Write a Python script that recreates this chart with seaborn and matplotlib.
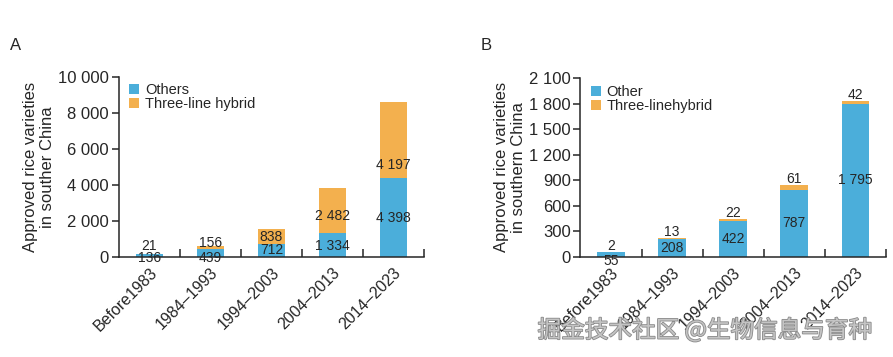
import matplotlib
matplotlib.use("Agg")
import matplotlib.pyplot as plt
import matplotlib.patheffects as pe
import seaborn as sns
import pandas as pd
from matplotlib.patches import Patch
from matplotlib.ticker import FuncFormatter, FixedLocator

# ---------------- data ----------------
periods = ["Before1983", "1984\u20131993", "1994\u20132003", "2004\u20132013", "2014\u20132023"]

others_A = [136, 439, 712, 1334, 4398]
hybrid_A = [21, 156, 838, 2482, 4197]

others_B = [55, 208, 422, 787, 1795]
hybrid_B = [2, 13, 22, 61, 42]

yticks_A = [0, 2000, 4000, 6000, 8000, 10000]
yticks_B = [0, 300, 600, 900, 1200, 1500, 1800, 2100]

# label heights (data units) for the value annotations
label_y_others_A = [-100, -70, 370, 600, 2150]
label_y_hybrid_A = [610, 760, 1090, 2260, 5090]
label_y_others_B = [-45, 104, 211, 393, 897]

BLUE = "#4BAEDA"
ORANGE = "#F3B04E"

sns.set_style("ticks")
plt.rcParams["font.family"] = ["Liberation Sans", "DejaVu Sans"]
plt.rcParams["axes.linewidth"] = 1.1

fig = plt.figure(figsize=(8.93, 3.57), dpi=100)
axA = fig.add_axes([0.133, 0.281, 0.342, 0.504])
axB = fig.add_axes([0.650, 0.281, 0.342, 0.500])

fmt = FuncFormatter(lambda v, p: f"{v:,.0f}".replace(",", " "))


def num(v):
    return f"{v:,.0f}".replace(",", " ")


def draw(ax, others, hybrid, yticks, ylabel, labelpad, leg_labels):
    df = pd.DataFrame({"period": periods, "others": others, "hybrid": hybrid})
    df["total"] = df["others"] + df["hybrid"]
    sns.barplot(data=df, x="period", y="total", color=ORANGE, saturation=1,
                width=0.45, ax=ax, linewidth=0)
    sns.barplot(data=df, x="period", y="others", color=BLUE, saturation=1,
                width=0.45, ax=ax, linewidth=0)
    ax.set_xlim(-0.5, 4.5)
    ax.set_ylim(0, yticks[-1])
    ax.set_yticks(yticks)
    ax.yaxis.set_major_formatter(fmt)
    ax.tick_params(axis="y", direction="out", length=5, width=1.1, labelsize=12, pad=2)
    ax.set_xticks(range(len(periods)))
    ax.set_xticklabels(periods, rotation=45, ha="right", rotation_mode="anchor", fontsize=11.5)
    ax.tick_params(axis="x", which="major", length=0, pad=6)
    ax.xaxis.set_minor_locator(FixedLocator([0.5, 1.5, 2.5, 3.5, 4.5]))
    ax.tick_params(axis="x", which="minor", direction="in", length=6, width=1.1)
    sns.despine(ax=ax)
    ax.set_xlabel("")
    ax.set_ylabel(ylabel, fontsize=12, labelpad=labelpad, linespacing=1.2)
    handles = [Patch(facecolor=BLUE, edgecolor="none"), Patch(facecolor=ORANGE, edgecolor="none")]
    ax.legend(handles, leg_labels, loc="upper left", bbox_to_anchor=(0.0, 1.02),
              frameon=False, fontsize=10.5, handlelength=0.7, handleheight=0.7,
              handletextpad=0.4, labelspacing=0.0, borderaxespad=0.3)


draw(axA, others_A, hybrid_A, yticks_A,
     "Approved rice varieties\nin souther China", 2, ["Others", "Three-line hybrid"])
draw(axB, others_B, hybrid_B, yticks_B,
     "Approved rice varieties\nin southern China", 2, ["Other", "Three-linehybrid"])

for i in range(len(periods)):
    axA.text(i, label_y_others_A[i], num(others_A[i]), ha="center", va="center", fontsize=10)
    axA.text(i, label_y_hybrid_A[i], num(hybrid_A[i]), ha="center", va="center", fontsize=10)

for i in range(len(periods)):
    axB.text(i, label_y_others_B[i], num(others_B[i]), ha="center", va="center", fontsize=10)
    axB.annotate(num(hybrid_B[i]), (i, others_B[i] + hybrid_B[i]), xytext=(0, 4),
                 textcoords="offset points", ha="center", va="center", fontsize=10)

fig.text(10 / 893, 1 - 45 / 357, "A", fontsize=12, va="center", ha="left")
fig.text(481 / 893, 1 - 46 / 357, "B", fontsize=12, va="center", ha="left")

fig.text(705 / 893, 1 - 330 / 357, "掘金技术社区 @生物信息与育种", fontsize=17,
         color="#c4c4c4", ha="center", va="center",
         family=["Noto Sans CJK SC", "DejaVu Sans"],
         path_effects=[pe.withStroke(linewidth=1.2, foreground="#8a8a8a")])

fig.savefig("out.png", dpi=100)
